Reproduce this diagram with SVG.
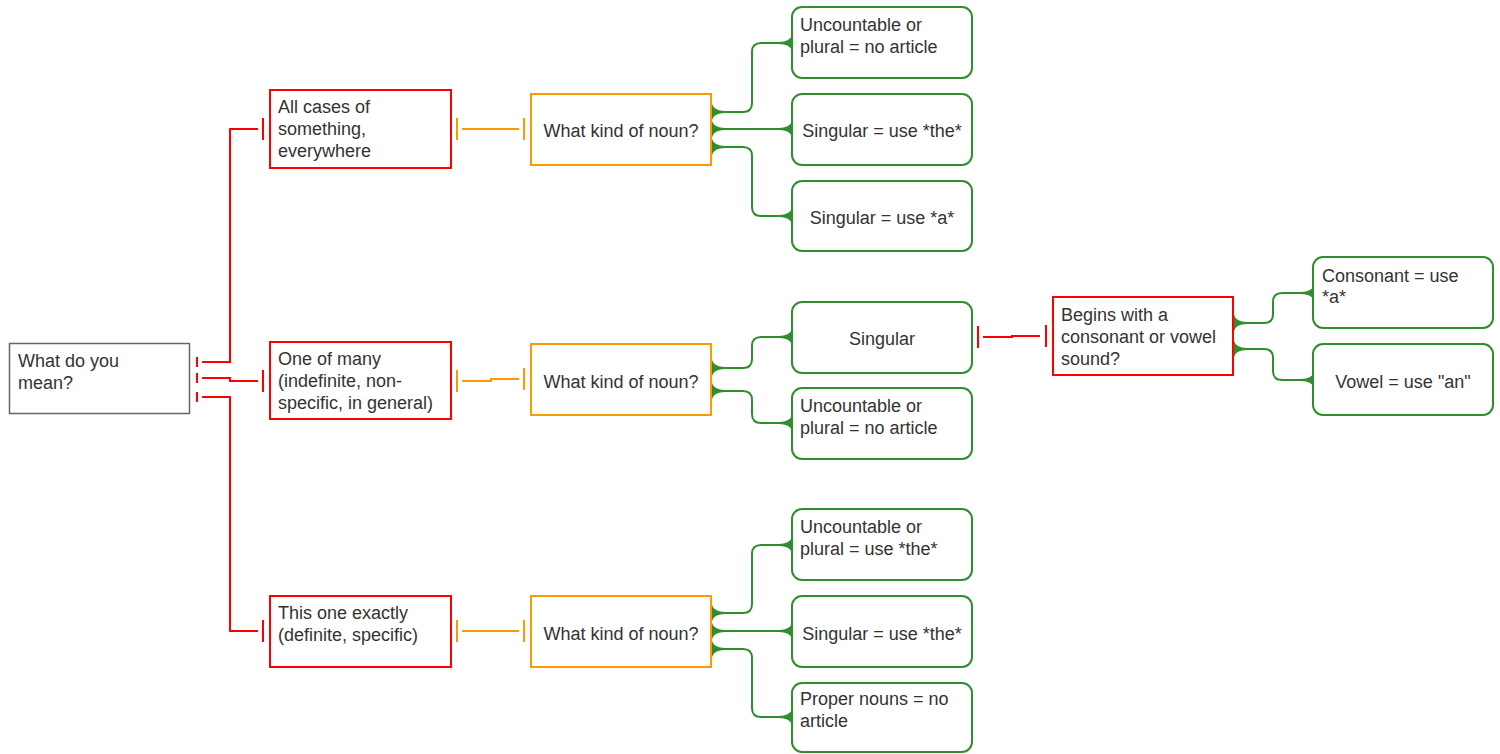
<svg xmlns="http://www.w3.org/2000/svg" xmlns:xlink="http://www.w3.org/1999/xlink" width="1500" height="754" viewBox="0 0 1500 754">
<style>
  text { font-family: "Liberation Sans", Arial, sans-serif; font-size: 18px; fill: #333333; }
  .c { text-anchor: middle; }
  .root { fill: #ffffff; stroke: #666666; stroke-width: 1.5; }
  .red { fill: #ffffff; stroke: #ff0000; stroke-width: 2; }
  .orange { fill: #ffffff; stroke: #ff9900; stroke-width: 2; }
  .green { fill: #ffffff; stroke: #2f8f2f; stroke-width: 2; }
  .lr { fill: none; stroke: #ff0000; stroke-width: 2; }
  .lo { fill: none; stroke: #ff9900; stroke-width: 2; }
  .lg { fill: none; stroke: #2f8f2f; stroke-width: 2; }
  .flare { fill: #2f8f2f; }
</style>
<defs>
  <path id="fl" class="flare" d="M0,-8 Q2,-1.2 13,-1 L13,1 Q2,1.2 0,8 Z"/>
</defs>

<g id="connectors">
  <path class="lr" d="M197,357 V367 M202,362 H230 V129 H258 M263,118 V140"/>
  <path class="lr" d="M197,373 V383 M202,378 H230 V381 H258 M263,370 V392"/>
  <path class="lr" d="M197,392 V402 M202,397 H230 V631 H258 M263,620 V642"/>
  <path class="lo" d="M457,118 V140 M462,129 H519 M524,118 V140"/>
  <path class="lo" d="M457,370 V392 M462,381 H491 V379 H519 M524,368 V390"/>
  <path class="lo" d="M457,620 V642 M462,631 H519 M524,620 V642"/>
  <path class="lr" d="M978,326 V348 M983,337 H1012 V336 H1040 M1046,325 V347"/>

  <path class="lg" d="M711,112 H743 Q752,112 752,103 V52 Q752,43 761,43 H791"/>
  <path class="lg" d="M711,129 H791"/>
  <path class="lg" d="M711,147 H743 Q752,147 752,156 V207 Q752,216 761,216 H791"/>
  <path class="lg" d="M711,368 H743 Q752,368 752,359 V346 Q752,337 761,337 H791"/>
  <path class="lg" d="M711,391 H743 Q752,391 752,400 V414 Q752,423 761,423 H791"/>
  <path class="lg" d="M711,613 H743 Q752,613 752,604 V554 Q752,545 761,545 H791"/>
  <path class="lg" d="M711,631 H791"/>
  <path class="lg" d="M711,649 H743 Q752,649 752,658 V708 Q752,717 761,717 H791"/>
  <path class="lg" d="M1233,323 H1264 Q1273,323 1273,314 V302 Q1273,293 1282,293 H1313"/>
  <path class="lg" d="M1233,349 H1264 Q1273,349 1273,358 V371 Q1273,380 1282,380 H1313"/>

  <use xlink:href="#fl" href="#fl" transform="translate(712,112)"/>
  <use xlink:href="#fl" href="#fl" transform="translate(712,129)"/>
  <use xlink:href="#fl" href="#fl" transform="translate(712,147)"/>
  <use xlink:href="#fl" href="#fl" transform="translate(712,368)"/>
  <use xlink:href="#fl" href="#fl" transform="translate(712,391)"/>
  <use xlink:href="#fl" href="#fl" transform="translate(712,613)"/>
  <use xlink:href="#fl" href="#fl" transform="translate(712,631)"/>
  <use xlink:href="#fl" href="#fl" transform="translate(712,649)"/>
  <use xlink:href="#fl" href="#fl" transform="translate(1234,323)"/>
  <use xlink:href="#fl" href="#fl" transform="translate(1234,349)"/>
  <use xlink:href="#fl" href="#fl" transform="translate(792,43) scale(-1,1)"/>
  <use xlink:href="#fl" href="#fl" transform="translate(792,129) scale(-1,1)"/>
  <use xlink:href="#fl" href="#fl" transform="translate(792,216) scale(-1,1)"/>
  <use xlink:href="#fl" href="#fl" transform="translate(792,337) scale(-1,1)"/>
  <use xlink:href="#fl" href="#fl" transform="translate(792,423) scale(-1,1)"/>
  <use xlink:href="#fl" href="#fl" transform="translate(792,545) scale(-1,1)"/>
  <use xlink:href="#fl" href="#fl" transform="translate(792,631) scale(-1,1)"/>
  <use xlink:href="#fl" href="#fl" transform="translate(792,717) scale(-1,1)"/>
  <use xlink:href="#fl" href="#fl" transform="translate(1314,293) scale(-1,1)"/>
  <use xlink:href="#fl" href="#fl" transform="translate(1314,380) scale(-1,1)"/>
</g>

<g id="root">
  <rect class="root" x="9.5" y="343.5" width="180" height="70"/>
  <text x="18" y="367">What do you</text>
  <text x="18" y="389">mean?</text>
</g>

<g id="all-cases">
  <rect class="red" x="270" y="90" width="181" height="78"/>
  <text x="278" y="113">All cases of</text>
  <text x="278" y="135">something,</text>
  <text x="278" y="157">everywhere</text>
</g>
<g id="one-of-many">
  <rect class="red" x="270" y="342" width="181" height="77"/>
  <text x="278" y="365">One of many</text>
  <text x="278" y="387">(indefinite, non-</text>
  <text x="278" y="409">specific, in general)</text>
</g>
<g id="this-one">
  <rect class="red" x="270" y="596" width="181" height="71"/>
  <text x="278" y="619">This one exactly</text>
  <text x="278" y="641">(definite, specific)</text>
</g>

<g id="noun-1">
  <rect class="orange" x="531" y="94" width="180" height="71"/>
  <text class="c" x="621" y="137">What kind of noun?</text>
</g>
<g id="noun-2">
  <rect class="orange" x="531" y="344" width="180" height="71"/>
  <text class="c" x="621" y="388">What kind of noun?</text>
</g>
<g id="noun-3">
  <rect class="orange" x="531" y="596" width="180" height="71"/>
  <text class="c" x="621" y="640">What kind of noun?</text>
</g>

<g id="g1a">
  <rect class="green" x="792" y="7" width="180" height="71" rx="10"/>
  <text x="800" y="31">Uncountable or</text>
  <text x="800" y="53">plural = no article</text>
</g>
<g id="g1b">
  <rect class="green" x="792" y="94" width="180" height="71" rx="10"/>
  <text class="c" x="882" y="137">Singular = use *the*</text>
</g>
<g id="g1c">
  <rect class="green" x="792" y="181" width="180" height="70" rx="10"/>
  <text class="c" x="882" y="224">Singular = use *a*</text>
</g>

<g id="g2a">
  <rect class="green" x="792" y="302" width="180" height="71" rx="10"/>
  <text class="c" x="882" y="345">Singular</text>
</g>
<g id="g2b">
  <rect class="green" x="792" y="388" width="180" height="71" rx="10"/>
  <text x="800" y="412">Uncountable or</text>
  <text x="800" y="434">plural = no article</text>
</g>

<g id="g3a">
  <rect class="green" x="792" y="509" width="180" height="71" rx="10"/>
  <text x="800" y="533">Uncountable or</text>
  <text x="800" y="555">plural = use *the*</text>
</g>
<g id="g3b">
  <rect class="green" x="792" y="596" width="180" height="71" rx="10"/>
  <text class="c" x="882" y="640">Singular = use *the*</text>
</g>
<g id="g3c">
  <rect class="green" x="792" y="683" width="180" height="69" rx="10"/>
  <text x="800" y="705">Proper nouns = no</text>
  <text x="800" y="727">article</text>
</g>

<g id="begins">
  <rect class="red" x="1053" y="297" width="180" height="78"/>
  <text x="1061" y="321">Begins with a</text>
  <text x="1061" y="343">consonant or vowel</text>
  <text x="1061" y="365">sound?</text>
</g>

<g id="consonant">
  <rect class="green" x="1313" y="257" width="180" height="71" rx="10"/>
  <text x="1322" y="282">Consonant = use</text>
  <text x="1322" y="303">*a*</text>
</g>
<g id="vowel">
  <rect class="green" x="1313" y="344" width="180" height="71" rx="10"/>
  <text class="c" x="1403" y="388">Vowel = use "an"</text>
</g>
</svg>
